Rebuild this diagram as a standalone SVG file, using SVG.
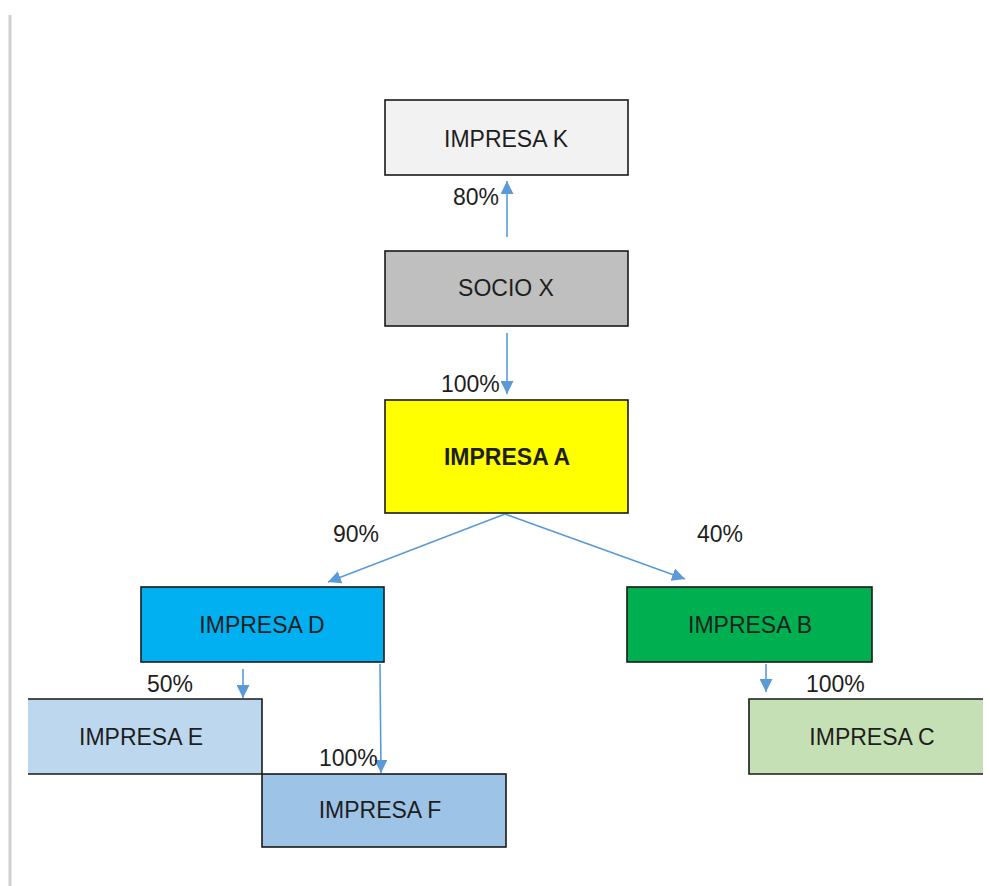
<svg xmlns="http://www.w3.org/2000/svg" width="990" height="886" viewBox="0 0 990 886">
  <defs>
    <marker id="arr" viewBox="0 0 10 10" refX="10" refY="5" markerWidth="13" markerHeight="13" markerUnits="userSpaceOnUse" orient="auto">
      <path d="M0,0 L10,5 L0,10 z" fill="#5b9bd5"/>
    </marker>
    <style>
      .box { stroke: #1a1a1a; stroke-width: 1.6; }
      .edge { stroke: #1a1a1a; stroke-width: 1.6; fill: none; }
      .lbl { font-family: "Liberation Sans", Arial, sans-serif; font-size: 23px; fill: #1e1e1e; text-anchor: middle; }
      .pct { font-family: "Liberation Sans", Arial, sans-serif; font-size: 23px; fill: #1e1e1e; }
      .con { stroke: #5b9bd5; stroke-width: 1.6; fill: none; marker-end: url(#arr); }
    </style>
  </defs>
  <rect width="990" height="886" fill="#ffffff"/>
  <line x1="10" y1="15" x2="10" y2="886" stroke="#cfcfcf" stroke-width="3"/>

  <g id="connectors">
    <line class="con" x1="507" y1="237" x2="507" y2="181"/>
    <line class="con" x1="507" y1="333" x2="507" y2="394"/>
    <line class="con" x1="505" y1="514" x2="328" y2="582"/>
    <line class="con" x1="505" y1="514" x2="685" y2="579"/>
    <line class="con" x1="243" y1="669" x2="243" y2="698"/>
    <line class="con" x1="380" y1="664" x2="381" y2="773"/>
    <line class="con" x1="766" y1="664" x2="766" y2="692"/>
  </g>

  <g id="impresa-k">
    <rect class="box" x="385" y="100" width="243" height="75" fill="#f2f2f2"/>
    <text class="lbl" x="506" y="147">IMPRESA K</text>
  </g>
  <g id="socio-x">
    <rect class="box" x="385" y="251" width="243" height="75" fill="#bfbfbf"/>
    <text class="lbl" x="506" y="296">SOCIO X</text>
  </g>
  <g id="impresa-a">
    <rect class="box" x="385" y="400" width="243" height="113" fill="#ffff00"/>
    <text class="lbl" x="507" y="465" font-weight="bold">IMPRESA A</text>
  </g>
  <g id="impresa-d">
    <rect class="box" x="141" y="587" width="243" height="75" fill="#00b0f0"/>
    <text class="lbl" x="262" y="633">IMPRESA D</text>
  </g>
  <g id="impresa-b">
    <rect class="box" x="627" y="587" width="245" height="75" fill="#00b050"/>
    <text class="lbl" x="750" y="633">IMPRESA B</text>
  </g>
  <g id="impresa-e">
    <rect x="28" y="699" width="234" height="75" fill="#bdd7ee"/>
    <path class="edge" d="M28,699 H262 V774 H28"/>
    <text class="lbl" x="141" y="745">IMPRESA E</text>
  </g>
  <g id="impresa-f">
    <rect class="box" x="262" y="774" width="244" height="73" fill="#9dc3e6"/>
    <text class="lbl" x="380" y="818">IMPRESA F</text>
  </g>
  <g id="impresa-c">
    <rect x="749" y="699" width="234" height="75" fill="#c5e0b4"/>
    <path class="edge" d="M983,699 H749 V774 H983"/>
    <text class="lbl" x="872" y="745">IMPRESA C</text>
  </g>

  <g id="labels">
    <text class="pct" x="453" y="205">80%</text>
    <text class="pct" x="441" y="392">100%</text>
    <text class="pct" x="333" y="542">90%</text>
    <text class="pct" x="697" y="542">40%</text>
    <text class="pct" x="147" y="692">50%</text>
    <text class="pct" x="319" y="766">100%</text>
    <text class="pct" x="806" y="692">100%</text>
  </g>
</svg>
